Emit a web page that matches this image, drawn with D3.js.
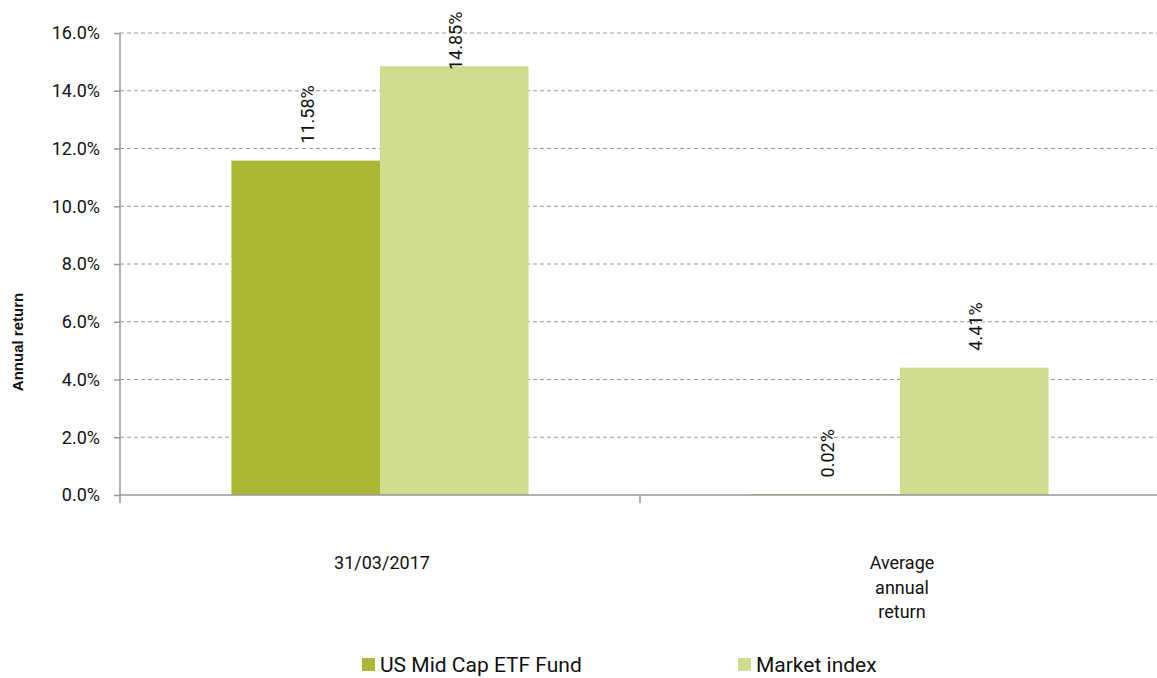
<!DOCTYPE html>
<html>
<head>
<meta charset="utf-8">
<script src="https://cdn.jsdelivr.net/npm/d3@7"></script>
<style>
  body { margin: 0; background: #fff; }
  svg { display: block; font-family: Roboto, "Noto Sans", sans-serif; }
</style>
</head>
<body>
<div id="chart"></div>
<script>
// data
const categories = ["31/03/2017", "Average annual return"];
const categoryLines = [["31/03/2017"], ["Average", "annual", "return"]];
const seriesNames = ["US Mid Cap ETF Fund", "Market index"];
const fundValues = [11.58, 0.02];
const indexValues = [14.85, 4.41];
const yTicks = [0, 2, 4, 6, 8, 10, 12, 14, 16];

const width = 1157, height = 678;
const margin = { left: 120, right: -3, top: 33, bottom: 183 };
const colors = ["#abb735", "#d1dc8e"];

const svg = d3.select("#chart").append("svg")
    .attr("width", width)
    .attr("height", height);

const x0 = d3.scaleBand()
    .domain(categories)
    .range([margin.left, width - margin.right])
    .paddingInner(0)
    .paddingOuter(0);

const x1 = d3.scaleBand()
    .domain(seriesNames)
    .range([0, x0.bandwidth()])
    .paddingOuter(0.75)
    .paddingInner(0);

const y = d3.scaleLinear()
    .domain([0, 16])
    .range([height - margin.bottom, margin.top]);

// gridlines
svg.append("g")
    .selectAll("line")
    .data(yTicks.slice(1))
    .enter()
    .append("line")
    .attr("x1", margin.left)
    .attr("x2", width)
    .attr("y1", d => y(d))
    .attr("y2", d => y(d))
    .style("stroke", "#9a9a9a")
    .style("stroke-width", 1)
    .style("stroke-dasharray", "4,3");

// bars
const rows = categories.map((c, i) => ({ cat: c, vals: [fundValues[i], indexValues[i]] }));

const groups = svg.append("g")
    .selectAll("g")
    .data(rows)
    .enter()
    .append("g")
    .attr("transform", d => `translate(${x0(d.cat)},0)`);

groups.selectAll("rect")
    .data(d => d.vals.map((v, j) => ({ name: seriesNames[j], v, j })))
    .enter()
    .append("rect")
    .attr("x", d => x1(d.name))
    .attr("width", x1.bandwidth())
    .attr("y", d => y(d.v))
    .attr("height", d => y(0) - y(d.v))
    .style("fill", d => colors[d.j]);

// value labels (rotated)
groups.selectAll("text")
    .data(d => d.vals.map((v, j) => ({ name: seriesNames[j], v, j })))
    .enter()
    .append("text")
    .attr("transform", d => {
        const cx = x1(d.name) + x1.bandwidth() / 2 + 8;
        const ly = Math.max(y(d.v) - 17, 70);
        return `translate(${cx},${ly}) rotate(-90)`;
    })
    .style("font-size", "18px")
    .style("fill", "#111")
    .text(d => d.v.toFixed(2) + "%");

// y axis
const yAxis = d3.axisLeft(y)
    .tickValues(yTicks)
    .tickSize(6)
    .tickFormat(d => d.toFixed(1) + "%");

const gy = svg.append("g")
    .attr("transform", `translate(${margin.left},0)`)
    .call(yAxis);
gy.select(".domain").style("stroke", "#999").style("stroke-width", 1.5)
    .attr("d", `M0,${margin.top}V${y(0) + 8}`);
gy.selectAll(".tick line").style("stroke", "#999").style("stroke-width", 1.5);
gy.selectAll(".tick text")
    .attr("x", -20)
    .style("font-size", "18px")
    .style("font-family", "Roboto, sans-serif")
    .style("fill", "#111");

// x axis
svg.append("line")
    .attr("x1", margin.left)
    .attr("x2", width)
    .attr("y1", y(0))
    .attr("y2", y(0))
    .style("stroke", "#999")
    .style("stroke-width", 1.5);

svg.append("g")
    .selectAll("line")
    .data(categories)
    .enter()
    .append("line")
    .attr("x1", d => x0(d) + x0.bandwidth())
    .attr("x2", d => x0(d) + x0.bandwidth())
    .attr("y1", y(0))
    .attr("y2", y(0) + 8)
    .style("stroke", "#999")
    .style("stroke-width", 1.5);

// category labels
categoryLines.forEach((lines, i) => {
    const t = svg.append("text")
        .attr("text-anchor", "middle")
        .style("font-size", "18px")
        .style("fill", "#111");
    lines.forEach((ln, k) => {
        t.append("tspan")
            .attr("x", x0(categories[i]) + x0.bandwidth() / 2 + 2)
            .attr("y", 569 + k * 24.5)
            .text(ln);
    });
});

// y title
svg.append("text")
    .attr("transform", `translate(23,342) rotate(-90)`)
    .attr("text-anchor", "middle")
    .style("font-family", "'Liberation Sans', Arial, sans-serif")
    .style("font-weight", "bold")
    .style("font-size", "15px")
    .style("fill", "#111")
    .text("Annual return");

// legend
const legendX = [362, 738];
seriesNames.forEach((name, i) => {
    svg.append("rect")
        .attr("x", legendX[i])
        .attr("y", 658)
        .attr("width", 13)
        .attr("height", 13)
        .style("fill", colors[i]);
    svg.append("text")
        .attr("x", legendX[i] + 18)
        .attr("y", 672)
        .style("font-size", "21px")
        .style("fill", "#111")
        .text(name);
});
</script>
</body>
</html>
